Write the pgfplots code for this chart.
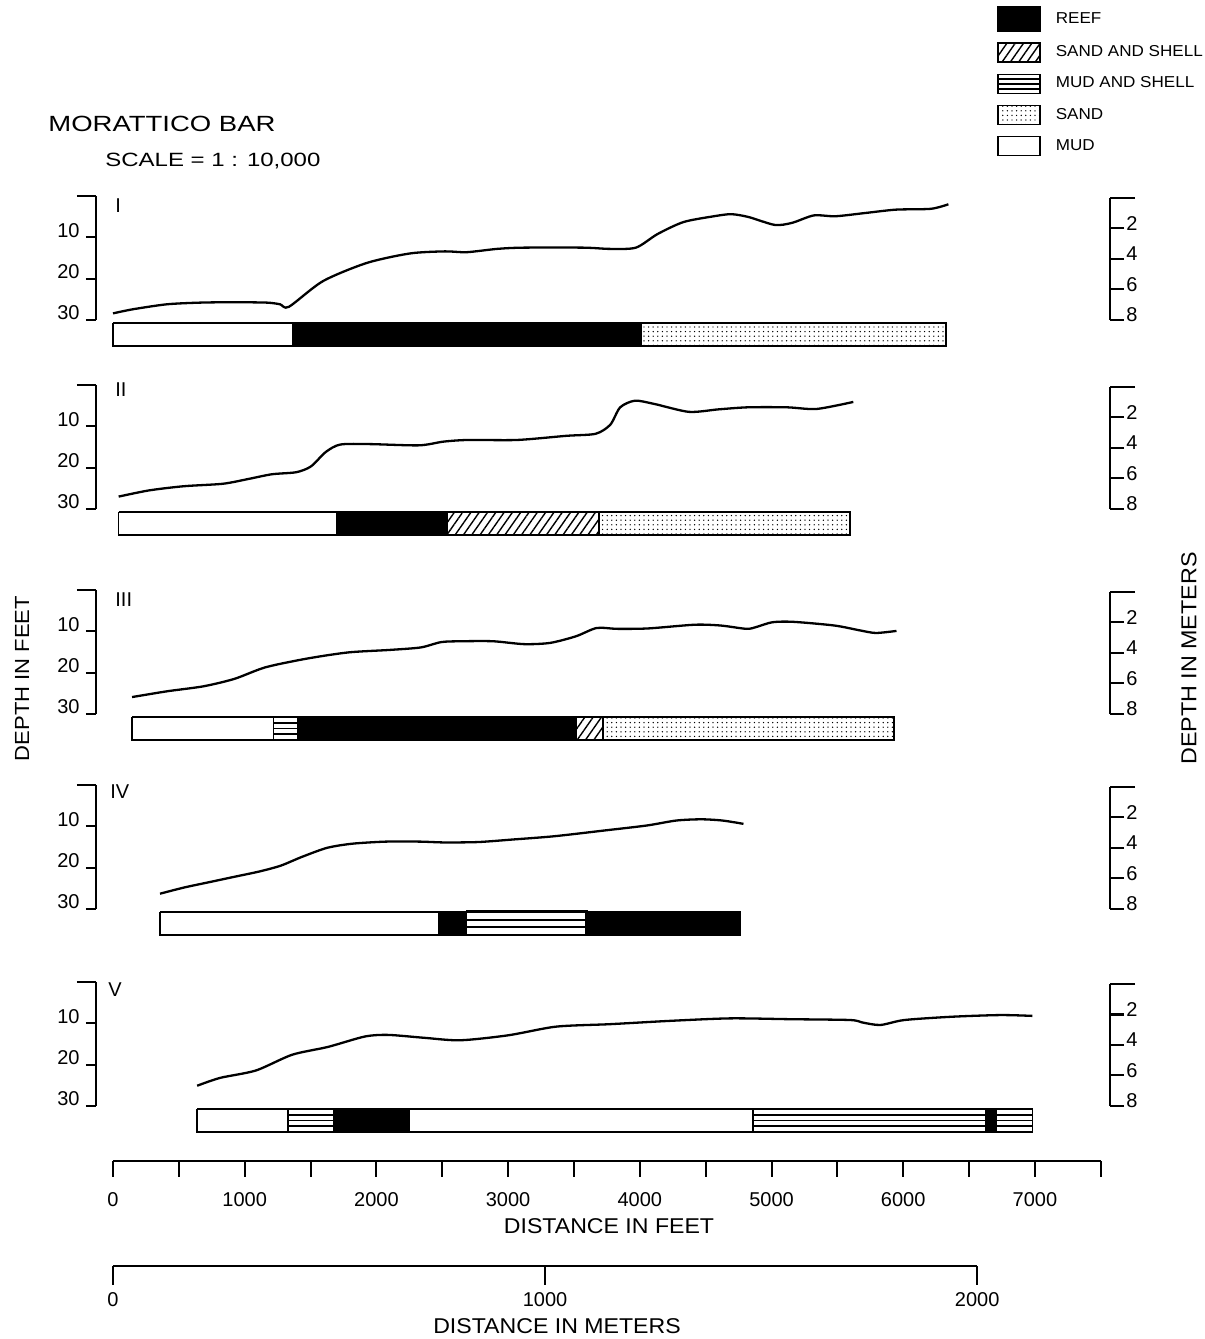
\documentclass[border=0pt]{standalone}
\usepackage{fontspec}
\setmainfont{Liberation Sans}[FakeStretch=1.08]
\newfontfamily\widefont{Liberation Sans}[FakeStretch=1.25]
\newfontfamily\plainsans{Liberation Sans}
\usepackage{graphicx}
\usepackage{pgfplots}
\pgfplotsset{compat=1.18}
\usetikzlibrary{patterns.meta}

\newcommand\fs[1]{\fontsize{#1}{#1}\selectfont}

\tikzset{
  mud/.style={draw=black, fill=white, line width=0.7pt},
  reef/.style={draw=black, fill=black, line width=0.7pt},
  sandfill/.style={draw=black, line width=0.7pt, pattern={Dots[distance=2.3pt, radius=0.36pt]}},
  sandshell/.style={draw=black, line width=0.7pt, pattern={Lines[angle=55, distance=3.4pt, line width=0.7pt]}},
}

% one layer of the bar below a profile (depth 30.7 to 36.3 ft)
\newcommand\seg[3]{\addplot[forget plot,#3] coordinates {(#1,30.7)(#2,30.7)(#2,36.3)(#1,36.3)(#1,30.7)};}
% mud and shell: white with horizontal lines
\newcommand\ms[2]{\seg{#1}{#2}{mud}
  \addplot[forget plot, line width=0.9pt] coordinates {(#1,32.1)(#2,32.1)};
  \addplot[forget plot, line width=0.9pt] coordinates {(#1,33.5)(#2,33.5)};
  \addplot[forget plot, line width=0.9pt] coordinates {(#1,34.9)(#2,34.9)};}
\newcommand\msb[2]{\seg{#1}{#2}{mud, line width=1.4pt}
  \addplot[forget plot, line width=1.2pt] coordinates {(#1,32.6)(#2,32.6)};
  \addplot[forget plot, line width=1.2pt] coordinates {(#1,34.4)(#2,34.4)};}

\pgfplotsset{
  prof/.style={forget plot, black, line width=1.15pt, smooth, tension=0.45},
  panel/.style={
    scale only axis, width=507pt, height=62pt, anchor=south west,
    xmin=-129, xmax=7570, ymin=0, ymax=30, y dir=reverse, clip=false,
    axis x line=none, axis y line*=left,
    ytick={10,20,30}, extra y ticks={0}, extra y tick labels={{}},
    extra y tick style={major tick length=9.5pt},
    tick align=outside, major tick length=5pt,
    axis line style={line width=1pt}, tick style={line width=1pt, black},
    yticklabel style={font=\plainsans\fs{10}, anchor=base east, inner sep=0pt, xshift=-3pt},
    /pgf/number format/assume math mode=true,
  },
  mpanel/.style={
    scale only axis, width=507pt, height=61pt, anchor=south west,
    xmin=0, xmax=1, ymin=0, ymax=8, y dir=reverse,
    axis x line=none, axis y line*=right,
    ytick={2,4,6,8}, extra y ticks={0}, extra y tick labels={{}},
    extra y tick style={major tick length=12.5pt},
    tick align=outside, major tick length=7pt,
    axis line style={line width=1pt}, tick style={line width=1pt, black},
    yticklabel style={font=\plainsans\fs{10}, anchor=base west, inner sep=0pt, xshift=1pt, yshift=-1pt},
    /pgf/number format/assume math mode=true,
  },
}

\begin{document}
\begin{tikzpicture}
\path[use as bounding box] (0,0) rectangle (602.5pt,669.5pt);

\node[anchor=west, inner sep=0pt, font=\widefont\fs{11}] at (24pt,607.5pt) {MORATTICO BAR};
\node[anchor=west, inner sep=0pt, font=\widefont\fs{9.6}] at (52.5pt,589pt) {SCALE = 1 : 10,000};

% ---------- I ----------
\begin{axis}[panel, at={(48pt,509.5pt)},
  legend style={at={(0.8886,2.532)}, anchor=north west, draw=none, fill=none,
    inner sep=0pt, outer sep=0pt, row sep=4.6pt, font=\fs{7.9},
    /tikz/every odd column/.append style={column sep=5.5pt}},
  legend cell align=left,
  legend image code/.code={\draw[#1] (0pt,-4.75pt) rectangle (21pt,4.75pt);}]
\addlegendimage{legend image code/.code={\draw[reef] (0pt,-6.25pt) rectangle (21pt,6.25pt);}}
\addlegendentry{REEF}
\addlegendimage{sandshell}
\addlegendentry{SAND AND SHELL}
\addlegendimage{legend image code/.code={\draw[mud] (0pt,-4.75pt) rectangle (21pt,4.75pt);
  \draw[line width=0.9pt] (0pt,-2.4pt)--(21pt,-2.4pt) (0pt,0pt)--(21pt,0pt) (0pt,2.4pt)--(21pt,2.4pt);}}
\addlegendentry{MUD AND SHELL}
\addlegendimage{sandfill}
\addlegendentry{SAND}
\addlegendimage{mud}
\addlegendentry{MUD}
\seg{0}{1367}{mud}\seg{1367}{4009}{reef}\seg{4009}{6325}{sandfill}
\addplot[prof] coordinates {(0,28.4)(152,27.4)(410,26.2)(660,25.8)(911,25.7)(1169,25.8)(1268,26.2)(1336,26.8)
  (1594,20.6)(1927,16.2)(2255,13.9)(2521,13.4)(2685,13.6)(2916,12.8)(3113,12.5)(3575,12.5)(3772,12.8)
  (3970,12.5)(4135,9.2)(4332,6.3)(4563,4.9)(4695,4.4)(4827,5.1)(5025,7.0)(5156,6.5)(5321,4.7)(5486,4.9)
  (5716,4.1)(5947,3.3)(6211,3.1)(6343,2.0)};
\end{axis}
\begin{axis}[mpanel, at={(48pt,509.5pt)}]\end{axis}

% ---------- II ----------
\begin{axis}[panel, at={(48pt,415pt)}]
\seg{43}{1701}{mud}\seg{1701}{2536}{reef}\seg{2536}{3691}{sandshell}\seg{3691}{5595}{sandfill}
\addplot[prof] coordinates {(43,27.0)(274,25.5)(535,24.5)(833,23.9)(1019,22.8)(1206,21.6)(1392,21.1)(1503,19.7)
  (1616,16.2)(1727,14.4)(1950,14.3)(2323,14.6)(2510,13.7)(2696,13.3)(3069,13.3)(3442,12.3)(3665,11.8)
  (3776,9.6)(3851,5.4)(3963,3.8)(4112,4.6)(4373,6.5)(4596,5.9)(4820,5.4)(5118,5.4)(5342,5.8)(5621,4.1)};
\end{axis}
\begin{axis}[mpanel, at={(48pt,415pt)}]\end{axis}

% ---------- III ----------
\begin{axis}[panel, at={(48pt,312.5pt)}]
\seg{145}{1217}{mud}\ms{1217}{1405}\seg{1405}{3515}{reef}\seg{3515}{3719}{sandshell}\seg{3719}{5931}{sandfill}
\addplot[prof] coordinates {(145,25.9)(412,24.5)(687,23.3)(922,21.5)(1158,18.7)(1472,16.6)(1787,15.1)(2101,14.5)
  (2336,13.9)(2493,12.6)(2651,12.4)(2886,12.4)(3122,13.1)(3319,12.8)(3515,11.2)(3672,9.2)(3829,9.4)
  (4064,9.3)(4418,8.4)(4615,8.6)(4811,9.4)(4890,8.9)(5007,7.8)(5164,7.7)(5479,8.6)(5675,9.8)(5793,10.4)(5949,9.9)};
\end{axis}
\begin{axis}[mpanel, at={(48pt,312.5pt)}]\end{axis}

% ---------- IV ----------
\begin{axis}[panel, at={(48pt,215pt)}]
\seg{357}{2472}{mud}\seg{2472}{2680}{reef}\msb{2680}{3596}\seg{3596}{4762}{reef}
\addplot[prof] coordinates {(357,26.3)(540,24.8)(732,23.5)(923,22.2)(1115,20.9)(1275,19.5)(1434,17.4)(1626,15.2)
  (1818,14.2)(2073,13.7)(2329,13.7)(2520,13.9)(2775,13.8)(3031,13.2)(3350,12.4)(3733,11.0)(4053,9.8)
  (4276,8.6)(4467,8.3)(4628,8.6)(4787,9.4)};
\end{axis}
\begin{axis}[mpanel, at={(48pt,215pt)}]\end{axis}

% ---------- V ----------
\begin{axis}[panel, at={(48pt,116.5pt)}]
\seg{639}{1328}{mud}\ms{1328}{1679}\seg{1679}{2249}{reef}\seg{2249}{4860}{mud}
\ms{4860}{6624}\seg{6624}{6706}{reef}\ms{6706}{6980}
\addplot[prof] coordinates {(639,25.1)(813,23.2)(1086,21.4)(1360,17.6)(1633,15.7)(1911,13.2)(2089,12.8)(2363,13.5)
  (2636,14.1)(3000,12.9)(3365,10.8)(3776,10.2)(4231,9.4)(4687,8.8)(5142,9.0)(5598,9.2)(5690,9.8)(5826,10.4)
  (6009,9.2)(6373,8.4)(6738,8.0)(6980,8.2)};
\end{axis}
\begin{axis}[mpanel, at={(48pt,116.5pt)}]\end{axis}

% roman numerals
\node[anchor=west, inner sep=0pt, font=\plainsans\fs{10}] at (57.5pt,566.5pt) {I};
\node[anchor=west, inner sep=0pt, font=\plainsans\fs{10}] at (57.5pt,474.5pt) {II};
\node[anchor=west, inner sep=0pt, font=\plainsans\fs{10}] at (57.5pt,369.5pt) {III};
\node[anchor=west, inner sep=0pt, font=\plainsans\fs{10}] at (55pt,273.5pt) {IV};
\node[anchor=west, inner sep=0pt, font=\plainsans\fs{10}] at (54pt,174.5pt) {V};

\node[rotate=90, inner sep=0pt, font=\fs{10.2}] at (11pt,330.25pt) {DEPTH IN FEET};
\node[rotate=90, inner sep=0pt, font=\fs{10.8}] at (594.5pt,340.25pt) {DEPTH IN METERS};

% distance scales
\begin{axis}[scale only axis, width=493.9pt, height=5pt, at={(56.5pt,89pt)}, anchor=south west,
  xmin=0, xmax=7500, ymin=0, ymax=1, axis x line*=bottom, axis y line=none,
  xtick={0,1000,...,7000}, minor xtick={500,1500,...,7500},
  tick align=outside, major tick length=8pt, minor tick length=8pt,
  axis line style={line width=1pt}, tick style={line width=1pt, black},
  xticklabel style={font=\plainsans\fs{10}, anchor=north, inner sep=0pt, yshift=-7.5pt},
  /pgf/number format/1000 sep={}, /pgf/number format/assume math mode=true]
\end{axis}
\node[inner sep=0pt, font=\fs{10.7}] at (304.5pt,56.5pt) {DISTANCE IN FEET};

\begin{axis}[scale only axis, width=432.1pt, height=5pt, at={(56.5pt,36.25pt)}, anchor=south west,
  xmin=0, xmax=2000, ymin=0, ymax=1, axis x line*=bottom, axis y line=none,
  xtick={0,1000,2000},
  tick align=outside, major tick length=9pt,
  axis line style={line width=1pt}, tick style={line width=1pt, black},
  xticklabel style={font=\plainsans\fs{10}, anchor=north, inner sep=0pt, yshift=-4pt},
  /pgf/number format/1000 sep={}, /pgf/number format/assume math mode=true]
\end{axis}
\node[inner sep=0pt, font=\fs{10.7}] at (278.5pt,6.5pt) {DISTANCE IN METERS};
\end{tikzpicture}
\end{document}
